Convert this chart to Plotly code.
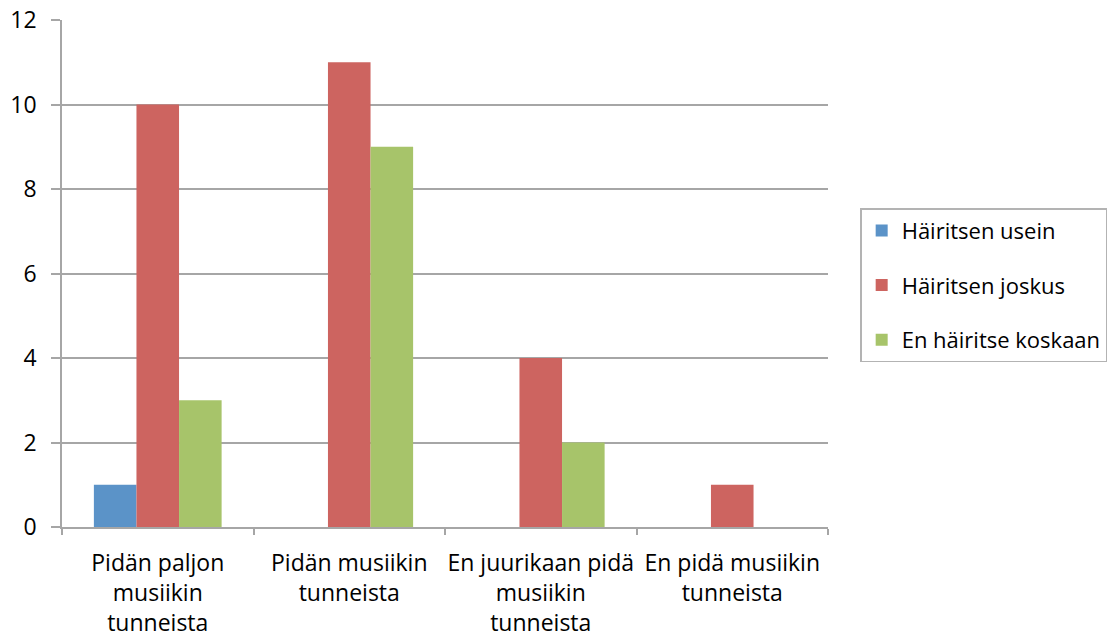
import plotly.graph_objects as go

categories = [
    "Pidän paljon<br>musiikin<br>tunneista",
    "Pidän musiikin<br>tunneista",
    "En juurikaan pidä<br>musiikin<br>tunneista",
    "En pidä musiikin<br>tunneista",
]
hairitsen_usein = [1, 0, 0, 0]
hairitsen_joskus = [10, 11, 4, 1]
en_hairitse_koskaan = [3, 9, 2, 0]

series = [
    ("Häiritsen usein", hairitsen_usein, "#5b93c8"),
    ("Häiritsen joskus", hairitsen_joskus, "#cd6460"),
    ("En häiritse koskaan", en_hairitse_koskaan, "#a7c46a"),
]

font_family = "Open Sans, Liberation Sans, sans-serif"

fig = go.Figure()
for i, (name, values, color) in enumerate(series):
    fig.add_trace(go.Bar(
        x=categories, y=values, name=name,
        marker=dict(color=color, line=dict(width=0)),
        legendgroup=str(i),
    ))

fig.update_layout(
    width=1108, height=637,
    margin=dict(l=62, r=280, t=20, b=110, autoexpand=False),
    paper_bgcolor="white", plot_bgcolor="white",
    barmode="group", bargap=0.333, bargroupgap=0,
    font=dict(family=font_family, size=23, color="black"),
    legend=dict(
        x=1.042, xanchor="left", y=0.477, yanchor="middle",
        bordercolor="#b3b3b3", borderwidth=1.5,
        traceorder="grouped", tracegroupgap=23,
        font=dict(size=22),
        itemsizing="constant",
    ),
)
fig.update_xaxes(
    automargin=False,
    showline=True, linecolor="#a6a6a6", linewidth=1.5,
    ticks="outside", tickson="boundaries", ticklen=6,
    tickcolor="#a6a6a6", tickwidth=1.5,
    showgrid=False, tickangle=0,
    ticklabelstandoff=15,
)
fig.update_yaxes(
    automargin=False,
    range=[0, 12], dtick=2,
    showline=True, linecolor="#a6a6a6", linewidth=1.5,
    ticks="outside", ticklen=9, tickcolor="#a6a6a6", tickwidth=1.5,
    showgrid=True, gridcolor="#a6a6a6", gridwidth=1.5,
    zeroline=False,
    ticklabelstandoff=10,
)

fig.write_html("out.html")
